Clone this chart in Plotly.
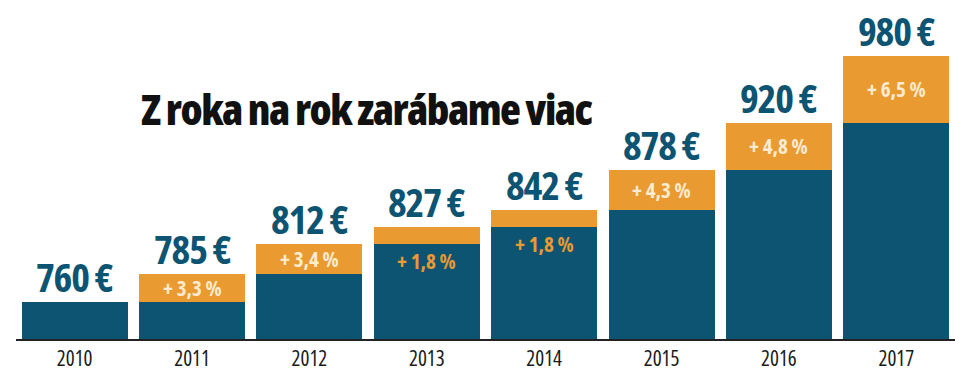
import plotly.graph_objects as go

years = ["2010", "2011", "2012", "2013", "2014", "2015", "2016", "2017"]
salaries = [760, 785, 812, 827, 842, 878, 920, 980]
growth_labels = ["", "+ 3,3 %", "+ 3,4 %", "+ 1,8 %", "+ 1,8 %", "+ 4,3 %", "+ 4,8 %", "+ 6,5 %"]
value_labels = ["760 €", "785 €", "812 €", "827 €", "842 €", "878 €", "920 €", "980 €"]
inside_blue = [False, False, False, True, True, False, False, False]

BLUE = "#0D5472"
ORANGE = "#E99A30"
CREAM = "#FBEBD2"
COND = "Open Sans, Roboto, sans-serif"


def cond(t, ls=0.0, st=75):
    return '<span style="font-stretch:%d%%;letter-spacing:%.1fpx">%s</span>' % (st, ls, t)


prev = [salaries[0]] + salaries[:-1]
incr = [s - p for s, p in zip(salaries, prev)]

fig = go.Figure()
fig.add_trace(go.Bar(x=years, y=prev, marker=dict(color=BLUE, line=dict(width=0)), hoverinfo="skip"))
fig.add_trace(go.Bar(x=years, y=incr, marker=dict(color=ORANGE, line=dict(width=0)), hoverinfo="skip"))

for i, (s, p, vl, gl, ib) in enumerate(zip(salaries, prev, value_labels, growth_labels, inside_blue)):
    fig.add_annotation(x=i, y=s, text=cond(vl, -1.2), showarrow=False, yanchor="bottom", yshift=-4,
                       font=dict(family=COND, size=40, color=BLUE, weight=700))
    if gl:
        if ib:
            fig.add_annotation(x=i, y=p, text=cond(gl, 0, 87), showarrow=False, yanchor="top", yshift=-1,
                               font=dict(family=COND, size=21, color=ORANGE, weight=700))
        else:
            fig.add_annotation(x=i, y=(s + p) / 2, text=cond(gl, 0, 87), showarrow=False, yanchor="middle",
                               font=dict(family=COND, size=21, color=CREAM, weight=700))

fig.add_annotation(xref="paper", yref="paper", x=(366.5 - 16) / 939, y=1 - 108 / 339,
                   text=cond("Z roka na rok zarábame viac", -1.5), showarrow=False, xanchor="center",
                   yanchor="middle", font=dict(family=COND, size=43, color="#111111", weight=800))

fig.update_layout(
    width=969, height=378,
    margin=dict(l=16, r=14, t=0, b=39),
    barmode="stack", bargap=0.097, showlegend=False,
    paper_bgcolor="white", plot_bgcolor="white",
    xaxis=dict(type="category", range=[-0.5, 7.5], showline=True, linecolor="#222222", linewidth=2,
               ticks="", ticklen=0, showgrid=False, tickmode="array", tickvals=list(range(len(years))),
               ticktext=[cond(y, 0, 87) for y in years],
               tickfont=dict(family=COND, size=21, color="#1a1a1a"), ticklabelstandoff=0),
    yaxis=dict(range=[726.6, 1030], visible=False, showgrid=False),
)

fig.write_html("out.html", config={"displayModeBar": False},
               post_script="document.body.style.margin='0';document.body.style.padding='0';")
